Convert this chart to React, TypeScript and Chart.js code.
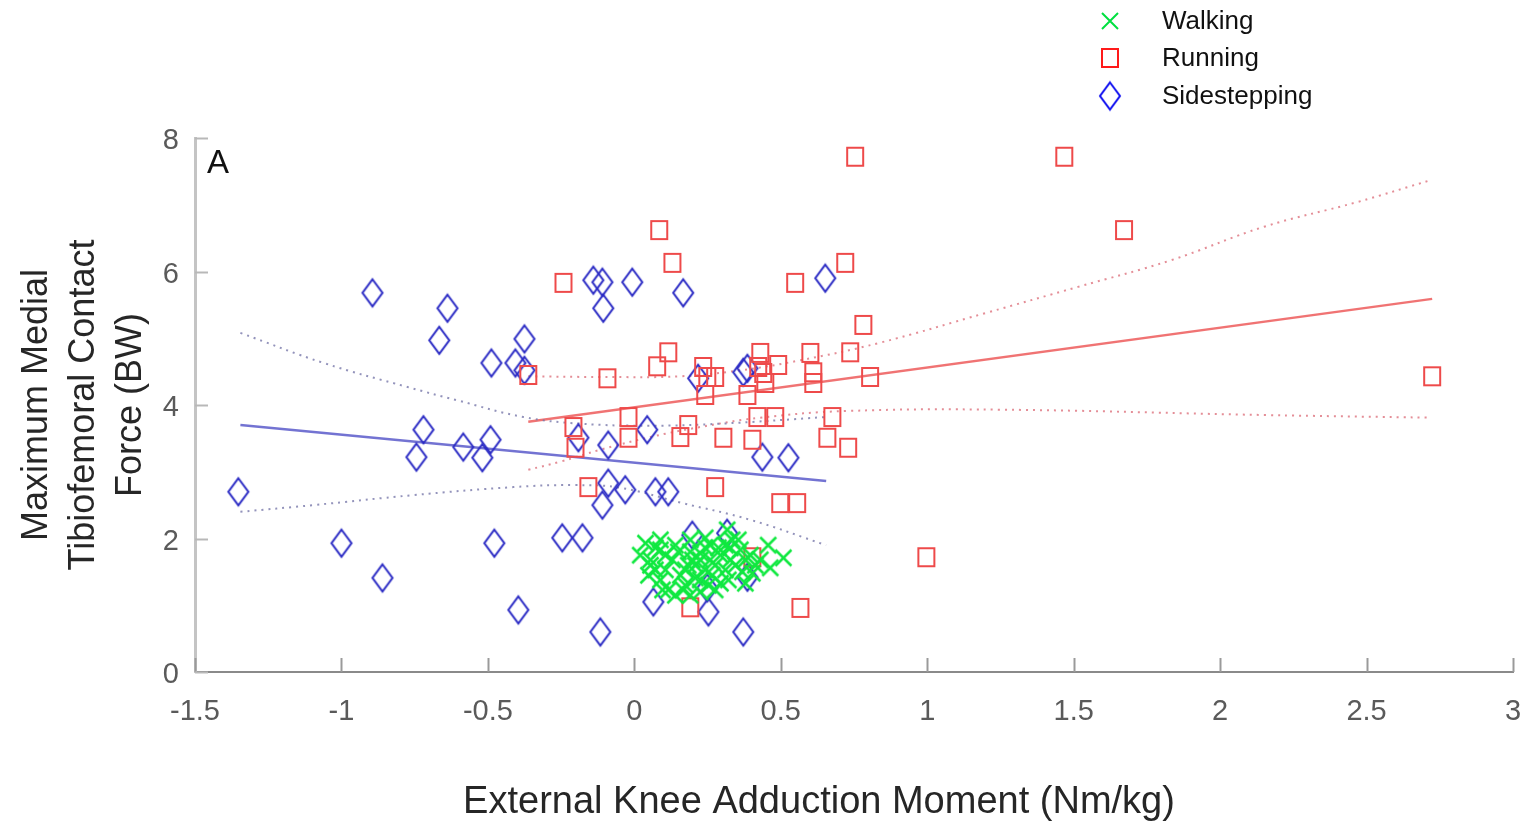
import React, { useEffect, useRef } from 'react';
import { Chart, registerables } from 'chart.js';
Chart.register(...registerables);

// ---- data ----
const walkingX = [0.038,0.055,0.072,0.089,0.116,0.167,0.225,0.266,0.317,0.328,0.379,0.403,0.457,0.509,0.464,0.089,0.140,0.191,0.242,0.294,0.362,0.130,0.184,0.225,0.276,0.345,0.157,0.208,0.259,0.311,0.072,0.191,0.242,0.106,0.020,0.048,0.430,0.396,0.355,0.225,0.294,0.174,0.140,0.276,0.311,0.379,0.089,0.208,0.259,0.328,0.106,0.150,0.198,0.242,0.287,0.334,0.369,0.413,0.096,0.191,0.253,0.321,0.055,0.225,0.174];
const walkingY = [1.93,1.68,1.53,1.38,1.23,1.23,1.38,1.45,2.13,1.86,1.33,1.48,1.90,1.71,1.56,1.83,1.90,1.80,1.86,1.75,1.83,1.68,1.60,1.68,1.60,1.60,1.45,1.41,1.90,1.53,1.86,1.98,2.01,1.53,1.75,1.45,1.68,1.75,1.98,1.20,1.33,1.30,1.15,1.23,1.90,1.68,1.98,1.60,1.68,1.68,1.75,1.80,1.68,1.53,1.86,1.98,1.50,1.60,1.23,1.15,1.30,1.38,1.60,1.78,1.53];

const runningX = [0.754,1.468,1.672,2.724,0.997,0.085,0.130,-0.242,0.549,0.720,0.782,0.737,0.601,0.805,0.611,0.611,0.430,0.491,0.440,0.447,0.386,0.423,0.235,0.249,0.276,0.242,0.420,0.481,0.676,0.659,0.730,0.403,0.304,0.184,0.157,-0.020,-0.020,-0.208,-0.201,-0.157,0.276,0.498,0.556,0.116,0.078,-0.092,-0.362,0.191,0.567,0.403];
const runningY = [7.72,7.72,6.62,4.43,1.72,6.62,6.13,5.83,5.83,6.13,5.20,4.79,4.78,4.42,4.49,4.33,4.78,4.60,4.48,4.33,4.15,4.57,4.57,4.42,4.42,4.15,3.82,3.82,3.82,3.51,3.36,3.48,3.51,3.70,3.52,3.82,3.51,3.67,3.36,2.77,2.77,2.53,2.53,4.79,4.58,4.40,4.45,0.97,0.96,1.72];

const sidestepX = [-1.352,-1.000,-0.894,-0.860,-0.744,-0.720,-0.666,-0.638,-0.584,-0.519,-0.491,-0.488,-0.478,-0.396,-0.406,-0.375,-0.375,-0.140,-0.109,-0.106,-0.007,0.167,0.652,-0.191,-0.089,0.044,0.218,0.372,0.386,0.437,0.526,-0.089,-0.109,-0.031,0.072,0.116,-0.246,-0.177,0.198,0.317,0.065,0.253,-0.116,0.372,0.249,0.386];
const sidestepY = [2.70,1.93,5.68,1.41,3.22,3.63,4.97,5.45,3.37,3.21,3.48,4.63,1.93,0.93,4.63,4.99,4.52,5.87,5.84,5.45,5.84,5.68,5.90,3.51,3.40,3.63,4.40,4.49,4.55,3.22,3.21,2.83,2.50,2.73,2.70,2.70,2.01,2.01,2.05,2.08,1.05,0.90,0.60,0.60,1.26,1.42];

// regression fits and confidence bounds
const sideFitX = [-1.345, 0.655];
const sideFitY = [3.70, 2.86];
const sideUpperX = [-1.345,-1.061,-0.775,-0.604,-0.379,-0.184,0.055,0.294,0.655];
const sideUpperY = [5.08,4.63,4.27,4.07,3.82,3.72,3.69,3.72,3.82];
const sideLowerX = [-1.345,-1.096,-0.754,-0.413,-0.208,-0.048,0.164,0.396,0.655];
const sideLowerY = [2.40,2.50,2.65,2.77,2.80,2.76,2.53,2.28,1.90];

const runFitX = [-0.362, 2.724];
const runFitY = [3.75, 5.59];
const runUpperX = [-0.362,-0.116,0.157,0.362,0.567,0.836,1.201,1.515,1.833,2.150,2.468,2.720];
const runUpperY = [4.43,4.42,4.43,4.52,4.67,4.93,5.38,5.77,6.17,6.67,7.04,7.37];
const runLowerX = [-0.362,-0.253,-0.116,0.055,0.225,0.430,0.724,1.249,2.150,2.720];
const runLowerY = [3.03,3.15,3.33,3.52,3.67,3.81,3.91,3.93,3.85,3.81];

const xTickValues = [-1.5,-1,-0.5,0,0.5,1,1.5,2,2.5,3];
const xTickLabels = ['-1.5','-1','-0.5','0','0.5','1','1.5','2','2.5','3'];
const yTickValues = [0,2,4,6,8];
const yTickLabels = ['0','2','4','6','8'];

const seriesNames = ['Walking','Running','Sidestepping'];
const xTitle = 'External Knee Adduction Moment (Nm/kg)';
const yTitle = ['Maximum Medial','Tibiofemoral Contact','Force (BW)'];
const panelLabel = 'A';

const FONT = "'Liberation Sans', Arial, Helvetica, sans-serif";

const pts = (xs: number[], ys: number[]) => xs.map((x, i) => ({ x, y: ys[i] }));

function makeMarker(kind: string, color: string, lw = 2) {
  let w = 16, h = 16;
  if (kind === 'diamond') { w = 20; h = 27; }
  if (kind === 'square') { w = 16; h = 18; }
  const c = document.createElement('canvas');
  c.width = w + lw * 2 + 2;
  c.height = h + lw * 2 + 2;
  const g = c.getContext('2d')!;
  g.strokeStyle = color;
  g.lineWidth = lw;
  const cx = c.width / 2, cy = c.height / 2;
  g.beginPath();
  if (kind === 'diamond') {
    g.moveTo(cx, cy - h / 2);
    g.lineTo(cx + w / 2, cy);
    g.lineTo(cx, cy + h / 2);
    g.lineTo(cx - w / 2, cy);
    g.closePath();
  } else if (kind === 'square') {
    g.rect(cx - w / 2, cy - h / 2, w, h);
  } else {
    g.moveTo(cx - w / 2, cy - h / 2);
    g.lineTo(cx + w / 2, cy + h / 2);
    g.moveTo(cx + w / 2, cy - h / 2);
    g.lineTo(cx - w / 2, cy + h / 2);
  }
  g.stroke();
  return c;
}

export default function App() {
  const ref = useRef<HTMLCanvasElement>(null);
  useEffect(() => {
    const walkMarker = makeMarker('x', '#10e840', 2.5);
    const runMarker = makeMarker('square', '#ee4a4a');
    const sideMarker = makeMarker('diamond', '#2a2ac4');
    const legendMarkers = [makeMarker('x', '#00e040'), makeMarker('square', '#ff1a1a'), makeMarker('diamond', '#1010f0')];

    const overlay = {
      id: 'overlay',
      afterDraw(chart: any) {
        const ctx = chart.ctx;
        const xs = chart.scales.x, ys = chart.scales.y;
        const a = chart.chartArea;
        ctx.save();
        // inward tick marks
        ctx.lineWidth = 2;
        ctx.strokeStyle = '#9a9a9a';
        xTickValues.forEach(v => {
          const px = Math.round(xs.getPixelForValue(v)) + 0.5;
          ctx.beginPath();
          ctx.moveTo(px, a.bottom);
          ctx.lineTo(px, a.bottom - 14);
          ctx.stroke();
        });
        ctx.strokeStyle = '#b8b8b8';
        yTickValues.forEach(v => {
          const py = Math.round(ys.getPixelForValue(v)) + 0.5;
          ctx.beginPath();
          ctx.moveTo(a.left, py);
          ctx.lineTo(a.left + 13, py);
          ctx.stroke();
        });
        // panel label
        ctx.fillStyle = '#111';
        ctx.font = `33px ${FONT}`;
        ctx.textBaseline = 'alphabetic';
        ctx.textAlign = 'left';
        ctx.fillText(panelLabel, 207, 173);
        // x-axis title
        ctx.fillStyle = '#262626';
        ctx.font = `38px ${FONT}`;
        ctx.textAlign = 'center';
        ctx.textBaseline = 'middle';
        ctx.fillText(xTitle, 819, 803);
        // legend
        ctx.textAlign = 'left';
        ctx.font = `26px ${FONT}`;
        const rows = [21, 58, 96];
        seriesNames.forEach((name, i) => {
          const m = legendMarkers[i];
          ctx.drawImage(m, 1110 - m.width / 2, rows[i] - m.height / 2);
          ctx.fillStyle = '#111';
          ctx.fillText(name, 1162, rows[i] + 1);
        });
        ctx.restore();
      },
    };

    const lineDs = (xs: number[], ys: number[], color: string, dashed: boolean) => ({
      type: 'scatter' as const,
      data: pts(xs, ys),
      showLine: true,
      borderColor: color,
      borderWidth: dashed ? 2 : 2.5,
      borderDash: dashed ? [2, 5] : [],
      pointRadius: 0,
      tension: dashed ? 0.4 : 0,
      fill: false,
      order: 10,
    });

    const chart = new Chart(ref.current!, {
      type: 'scatter',
      data: {
        datasets: [
          { label: seriesNames[2], data: pts(sidestepX, sidestepY), pointStyle: sideMarker as any, order: 3 },
          { label: seriesNames[1], data: pts(runningX, runningY), pointStyle: runMarker as any, order: 2 },
          { label: seriesNames[0], data: pts(walkingX, walkingY), pointStyle: walkMarker as any, order: 1 },
          lineDs(sideFitX, sideFitY, 'rgba(100,100,205,0.9)', false),
          lineDs(sideUpperX, sideUpperY, 'rgba(120,120,170,0.8)', true),
          lineDs(sideLowerX, sideLowerY, 'rgba(120,120,170,0.8)', true),
          lineDs(runFitX, runFitY, 'rgba(238,100,100,0.9)', false),
          lineDs(runUpperX, runUpperY, 'rgba(225,130,140,0.9)', true),
          lineDs(runLowerX, runLowerY, 'rgba(225,130,140,0.9)', true),
        ] as any,
      },
      options: {
        animation: false,
        responsive: true,
        maintainAspectRatio: false,
        layout: { padding: { left: 0, top: 138, right: 14, bottom: 0 } },
        plugins: { legend: { display: false }, tooltip: { enabled: false } },
        events: [],
        scales: {
          x: {
            type: 'linear',
            min: -1.5,
            max: 3,
            afterBuildTicks: (s: any) => { s.ticks = xTickValues.map(v => ({ value: v })); },
            afterFit: (s: any) => { s.height = 151; s.paddingLeft = 0; s.paddingRight = 0; },
            ticks: {
              callback: (_v: any, i: number) => xTickLabels[i],
              font: { family: FONT, size: 29 },
              color: '#5a5a5a',
              padding: 23,
              maxRotation: 0,
              autoSkip: false,
            },
            grid: { display: true, drawOnChartArea: false, drawTicks: false },
            border: { display: true, color: '#8a8a8a', width: 2 },
            title: { display: false },
          },
          y: {
            type: 'linear',
            min: 0,
            max: 8,
            afterBuildTicks: (s: any) => { s.ticks = yTickValues.map(v => ({ value: v })); },
            afterFit: (s: any) => { s.width = 195; s.paddingTop = 0; s.paddingBottom = 0; },
            ticks: {
              callback: (_v: any, i: number) => yTickLabels[i],
              font: { family: FONT, size: 29 },
              color: '#5a5a5a',
              padding: 16,
              labelOffset: 3,
              autoSkip: false,
            },
            grid: { display: true, drawOnChartArea: false, drawTicks: false },
            border: { display: true, color: '#c4c4c4', width: 3 },
            title: {
              display: true,
              text: yTitle,
              font: { family: FONT, size: 36, lineHeight: 1.3 },
              color: '#262626',
              padding: { top: 14, bottom: 0 },
            },
          },
        },
      } as any,
      plugins: [overlay],
    });
    return () => chart.destroy();
  }, []);

  return (
    <div style={{ position: 'absolute', left: 0, top: 0, width: 1527, height: 823, background: '#fff' }}>
      <canvas ref={ref} />
    </div>
  );
}
